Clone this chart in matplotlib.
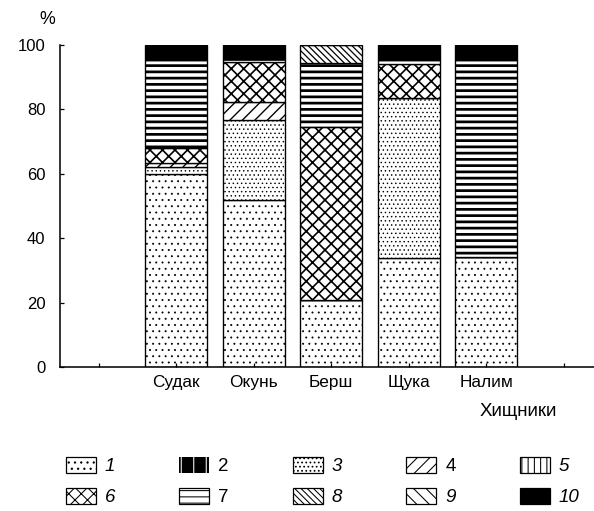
import matplotlib
matplotlib.use("Agg")
import matplotlib.pyplot as plt
import numpy as np
from matplotlib.patches import Patch

plt.rcParams["font.family"] = ["Liberation Sans", "DejaVu Sans"]

# Food composition of predators, % of total
slots = ["", "Судак", "Окунь", "Берш", "Щука", "Налим", ""]
fish_pos = [1, 2, 3, 4, 5]

comp1 = [60.0, 52.0, 20.8, 34.0, 34.3]
comp2 = [0.0, 0.0, 0.0, 0.0, 0.0]
comp3 = [2.0, 24.7, 0.0, 49.4, 0.0]
comp4 = [1.4, 5.7, 0.0, 0.0, 0.0]
comp5 = [0.0, 0.0, 0.0, 0.0, 0.0]
comp6 = [4.6, 12.3, 53.8, 10.6, 0.0]
comp7 = [27.3, 1.0, 19.7, 1.3, 61.0]
comp8 = [0.0, 0.0, 5.7, 0.0, 0.0]
comp9 = [0.0, 0.0, 0.0, 0.0, 0.0]
comp10 = [4.7, 4.3, 0.0, 4.7, 4.7]
components = [comp1, comp2, comp3, comp4, comp5, comp6, comp7, comp8, comp9, comp10]
comp_labels = ["1", "2", "3", "4", "5", "6", "7", "8", "9", "10"]

yticks = [0, 20, 40, 60, 80, 100]

# hatch, hatch linewidth, face colour, hatch colour
styles = [
    ("..", 0.7, "white", "black"),
    ("|", 6.0, "black", "white"),
    ("...", 0.7, "white", "black"),
    ("//", 1.3, "white", "black"),
    ("||", 1.3, "white", "black"),
    ("xx", 1.6, "white", "black"),
    ("--", 2.6, "white", "black"),
    ("\\\\\\\\", 1.2, "white", "black"),
    ("\\\\", 1.3, "white", "black"),
    ("", 1.0, "black", "black"),
]
italic = [True, False, True, False, True, True, False, True, True, True]

DPI = 75
fig = plt.figure(figsize=(594 / DPI, 511 / DPI), dpi=DPI)
ax = fig.add_axes([60 / 594, 1 - 367 / 511, 534 / 594, 322 / 511])

bottom = np.zeros(len(fish_pos))
for vals, (hatch, hlw, face, hcol) in zip(components, styles):
    vals = np.array(vals)
    if vals.sum() > 0:
        with plt.rc_context({"hatch.linewidth": hlw, "hatch.color": hcol}):
            ax.bar(fish_pos, vals, bottom=bottom, width=0.8, color=face,
                   edgecolor="black", linewidth=1.3, hatch=hatch)
    bottom += vals

ax.set_xlim(-0.5, 6.39)
ax.set_ylim(0, 100)
ax.set_xticks(range(len(slots)), slots)
ax.set_yticks(yticks)
ax.spines[["top", "right"]].set_visible(False)
ax.spines["left"].set_linewidth(1.5)
ax.spines["bottom"].set_linewidth(1.5)
ax.tick_params(axis="both", direction="in", length=4, width=1.2)
ax.tick_params(axis="y", pad=14, labelsize=16)
ax.tick_params(axis="x", pad=8, labelsize=16.5)

fig.text(47 / 594, 1 - 20 / 511, "%", fontsize=17, ha="center", va="center")
fig.text(518 / 594, 1 - 411 / 511, "Хищники", fontsize=18, ha="center", va="center")

# legend: two rows of five entries
handles = []
for hatch, hlw, face, hcol in styles:
    with plt.rc_context({"hatch.linewidth": hlw, "hatch.color": hcol}):
        if face == "black" and hatch:
            p = Patch(facecolor=face, edgecolor=hcol, hatch=hatch, linewidth=0)
        else:
            p = Patch(facecolor=face, edgecolor="black", hatch=hatch, linewidth=1.2)
    handles.append(p)

order = [0, 5, 1, 6, 2, 7, 3, 8, 4, 9]
leg = fig.legend([handles[i] for i in order], [comp_labels[i] for i in order],
                 ncol=5, loc="upper left", bbox_to_anchor=(58 / 594, 1 - 449 / 511),
                 frameon=False, fontsize=18, handlelength=1.6, handleheight=1.0,
                 handletextpad=0.5, columnspacing=3.4, labelspacing=0.65,
                 borderaxespad=0)
for t, i in zip(leg.get_texts(), order):
    t.set_fontstyle("italic" if italic[i] else "normal")

fig.savefig("out.png", dpi=DPI)
